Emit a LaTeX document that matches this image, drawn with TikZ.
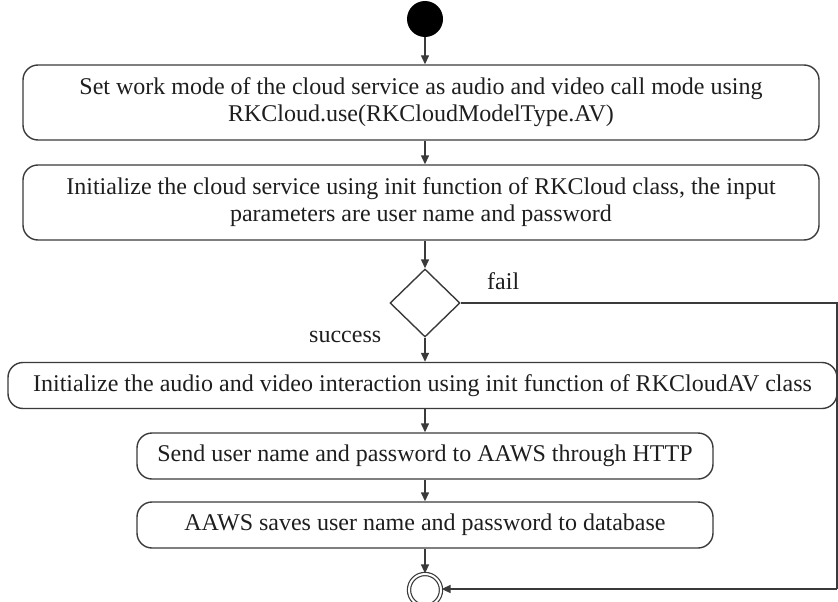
\documentclass[tikz,border=0pt]{standalone}
\usepackage{fontspec}
\setmainfont{Liberation Serif}
\usetikzlibrary{arrows.meta,shapes.geometric}
\definecolor{ln}{HTML}{3A3A3A}
\definecolor{tx}{HTML}{1E1E1E}
\begin{document}
\begin{tikzpicture}[x=1pt,y=-1pt,
  act/.style={draw=ln,line width=1.4pt,rounded corners=15pt,minimum height=46pt,inner sep=0pt,align=center,text=tx,font=\fontsize{24}{27}\selectfont},
  lbl/.style={text=tx,font=\fontsize{24}{27}\selectfont,inner sep=0pt},
  conn/.style={draw=ln,line width=1.4pt,-{Triangle[length=9pt,width=8pt]}},
  plain/.style={draw=ln,line width=1.4pt}]
\useasboundingbox (0,0) rectangle (838,602);
\node[circle,fill=black,minimum size=36pt,inner sep=0pt] (start) at (425,19) {};
\node[act,minimum width=796pt,minimum height=75pt] (b1) at (421,102.5)
  {Set work mode of the cloud service as audio and video call mode using\\RKCloud.use(RKCloudModelType.AV)};
\node[act,minimum width=796pt,minimum height=75pt] (b2) at (421,202.5)
  {Initialize the cloud service using init function of RKCloud class, the input\\parameters are user name and password};
\node[diamond,draw=ln,line width=1.4pt,minimum width=70pt,minimum height=68pt,inner sep=0pt] (dia) at (425,303) {};
\node[act,minimum width=829pt] (b3) at (422.5,385.5)
  {Initialize the audio and video interaction using init function of RKCloudAV class};
\node[act,minimum width=576pt] (b4) at (425,456)
  {Send user name and password to AAWS through HTTP};
\node[act,minimum width=576pt] (b5) at (425,525)
  {AAWS saves user name and password to database};
\node[circle,draw=ln,line width=1.2pt,double=white,double distance=2pt,minimum size=32pt,inner sep=0pt] (fin) at (425,590) {};
\coordinate (c1) at (837,303);
\coordinate (c2) at (837,589);
\draw[conn] (start) -- (b1.north -| start);
\draw[conn] (b1.south -| start) -- (b2.north -| start);
\draw[conn] (b2.south -| dia) -- (dia.north);
\draw[conn] (dia.south) -- (b3.north -| dia);
\draw[conn] (b3.south -| dia) -- (b4.north);
\draw[conn] (b4.south) -- (b5.north);
\draw[conn] (b5.south) -- (fin.north);
\draw[plain] (dia.east) -- (c1) -- (c2);
\draw[conn] (c2) -- (fin.east |- c2);
\node[lbl,anchor=base west] (fail) at (487,289) {fail};
\node[lbl,anchor=base west] (succ) at (309,342) {success};
\end{tikzpicture}
\end{document}
